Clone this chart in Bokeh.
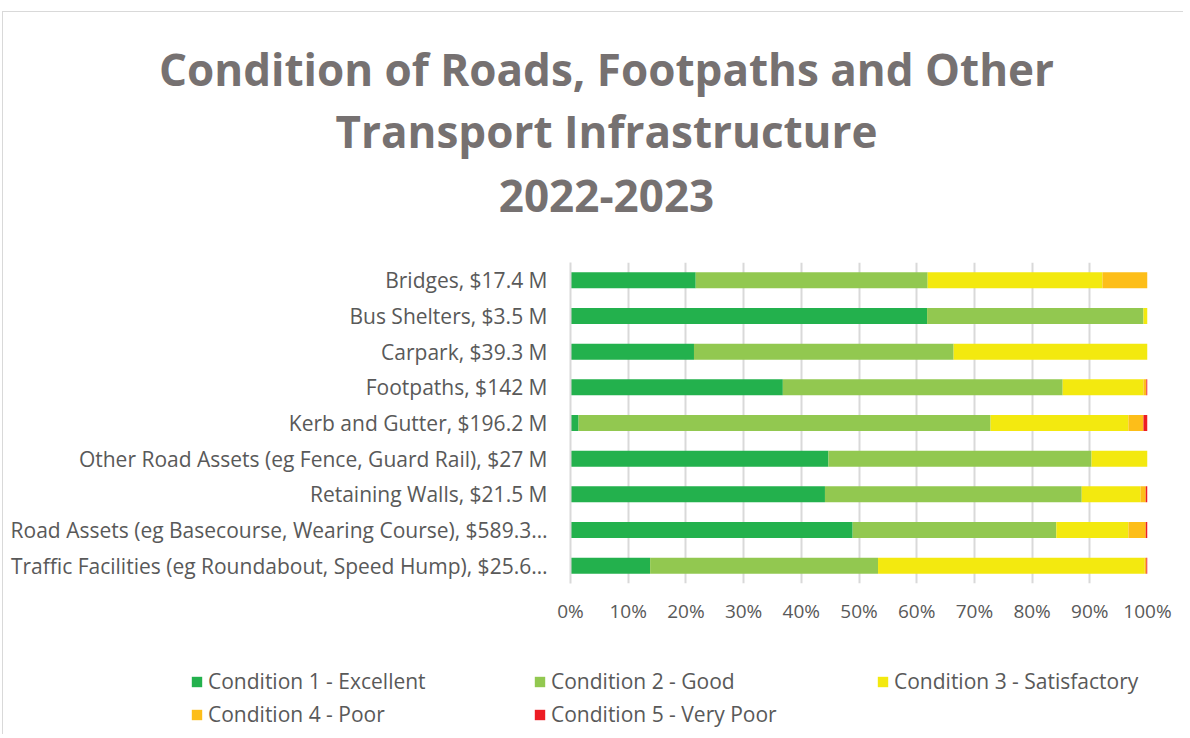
from bokeh.plotting import figure
from bokeh.models import (FactorRange, Range1d, NumeralTickFormatter, Legend,
                          LegendItem, FixedTicker)
from bokeh.layouts import column, row
from bokeh.core.properties import value
from bokeh.embed import file_html
from bokeh.resources import INLINE

categories = [
    "Bridges, $17.4 M",
    "Bus Shelters, $3.5 M",
    "Carpark, $39.3 M",
    "Footpaths, $142 M",
    "Kerb and Gutter, $196.2 M",
    "Other Road Assets (eg Fence, Guard Rail), $27 M",
    "Retaining Walls, $21.5 M",
    "Road Assets (eg Basecourse, Wearing Course), $589.3…",
    "Traffic Facilities (eg Roundabout, Speed Hump), $25.6…",
]
cond1 = [21.7, 61.8, 21.4, 36.8, 1.4, 44.7, 44.1, 48.9, 13.8]
cond2 = [40.2, 37.5, 45.0, 48.5, 71.4, 45.6, 44.5, 35.3, 39.5]
cond3 = [30.3, 0.7, 33.6, 14.0, 23.9, 9.7, 10.2, 12.5, 46.2]
cond4 = [7.8, 0.0, 0.0, 0.5, 2.6, 0.0, 0.9, 3.0, 0.3]
cond5 = [0.0, 0.0, 0.0, 0.2, 0.7, 0.0, 0.3, 0.3, 0.2]
series_names = ["Condition 1 - Excellent", "Condition 2 - Good", "Condition 3 - Satisfactory",
                "Condition 4 - Poor", "Condition 5 - Very Poor"]
colors = ["#23B14D", "#92C850", "#F3E90F", "#FDBE19", "#ED1C24"]
title_lines = ["Condition of Roads, Footpaths and Other", "Transport Infrastructure", "2022-2023"]
x_ticks = [0, 0.1, 0.2, 0.3, 0.4, 0.5, 0.6, 0.7, 0.8, 0.9, 1.0]

FONT = "Open Sans"
GREY = "#595959"
W = 1180

data = {"cat": categories}
keys = []
for i, s in enumerate([cond1, cond2, cond3, cond4, cond5]):
    k = f"c{i+1}"
    keys.append(k)
    data[k] = [v / 100.0 for v in s]

# ---- title figure ----
TH = 238
tp = figure(width=W, height=TH, output_backend="svg", toolbar_location=None,
            x_range=Range1d(0, W), y_range=Range1d(TH, 0),
            min_border=0, x_axis_type=None, y_axis_type=None)
tp.outline_line_color = None
tp.grid.grid_line_color = None
tp.text(x=[603, 603, 603], y=[56, 118, 183], text=title_lines,
        text_align="center", text_baseline="middle",
        text_font=value(FONT), text_font_style="bold", text_font_size="44px",
        text_color="#767171")

# ---- main figure ----
p = figure(width=W, height=400, output_backend="svg", toolbar_location=None,
           y_range=FactorRange(factors=list(reversed(categories))),
           x_range=Range1d(0, 1),
           min_border_left=567, min_border_right=36, min_border_top=12, min_border_bottom=67)
p.outline_line_color = None

renderers = p.hbar_stack(keys, y="cat", height=0.45, color=colors, source=data, line_color=None)

p.xaxis.ticker = FixedTicker(ticks=x_ticks)
p.xaxis.formatter = NumeralTickFormatter(format="0%")
p.xaxis.axis_line_color = None
p.xaxis.major_tick_line_color = None
p.xaxis.minor_tick_line_color = None
p.xaxis.major_label_text_font = FONT
p.xaxis.major_label_text_font_size = "19px"
p.xaxis.major_label_text_color = GREY
p.xaxis.major_label_standoff = 8

p.yaxis.axis_line_color = "#d9d9d9"
p.yaxis.axis_line_width = 2
p.yaxis.major_tick_line_color = None
p.yaxis.minor_tick_line_color = None
p.yaxis.major_label_text_font = FONT
p.yaxis.major_label_text_font_size = "21px"
p.yaxis.major_label_text_color = GREY
p.yaxis.major_label_standoff = 17

p.ygrid.grid_line_color = None
p.xgrid.grid_line_color = "#d9d9d9"
p.xgrid.grid_line_width = 2

# ---- legend figure ----
lp = figure(width=W, height=84, output_backend="svg", toolbar_location=None,
            x_range=Range1d(0, 1), y_range=Range1d(0, 1),
            min_border=0, x_axis_type=None, y_axis_type=None)
lp.outline_line_color = None
lp.grid.grid_line_color = None
# placeholder swatch renderers kept outside the visible range (legend keys only)
dummies = [lp.quad(left=[-3], right=[-2], top=[-2], bottom=[-3], color=c, line_color=None)
           for c in colors]
items = [LegendItem(label=n, renderers=[r]) for n, r in zip(series_names, dummies)]
# column-major fill of a 3-column grid -> reorder so rows read 1,2,3 / 4,5
order = [0, 3, 1, 4, 2]
legend = Legend(items=[items[i] for i in order], ncols=3, location=(187, 6),
                glyph_width=13, glyph_height=13, label_standoff=5, label_width=320,
                spacing=5, padding=5, margin=0,
                label_text_font=FONT, label_text_font_size="21px", label_text_color=GREY,
                border_line_color=None, background_fill_alpha=0)
lp.add_layout(legend, "center")

layout = column(row(tp), p, row(lp), spacing=0, margin=(11, 0, 0, 2),
                styles={"border-top": "1px solid #d9d9d9", "border-left": "1px solid #d9d9d9"})

open("out.html", "w").write(file_html(layout, INLINE))
